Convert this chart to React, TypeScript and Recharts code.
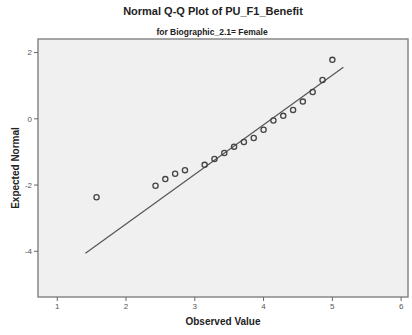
import { ScatterChart, Scatter, XAxis, YAxis, CartesianGrid, ReferenceLine, ReferenceArea } from "recharts";

// observed values (means of 7 items) and their expected normal scores
const observed = [1.571, 2.429, 2.571, 2.714, 2.857, 3.143, 3.286, 3.429, 3.571, 3.714, 3.857, 4.0, 4.143, 4.286, 4.429, 4.571, 4.714, 4.857, 5.0];
const expected = [-2.37, -2.02, -1.82, -1.66, -1.55, -1.39, -1.21, -1.03, -0.84, -0.7, -0.58, -0.33, -0.05, 0.09, 0.27, 0.52, 0.81, 1.17, 1.78];

// normal reference line end points
const lineX = [1.41, 5.16];
const lineY = [-4.06, 1.56];

const xTicks = [1, 2, 3, 4, 5, 6];
const yTicks = [-4, -2, 0, 2];

const X_DOMAIN: [number, number] = [0.72, 6.1];
const Y_DOMAIN: [number, number] = [-5.38, 2.41];

const points = observed.map((x, i) => ({ x, y: expected[i] }));

const font = "Arial, 'Liberation Sans', sans-serif";
const tickStyle = { fontSize: 8, fill: "#555", fontFamily: font };

export default function App() {
  return (
    <div style={{ position: "absolute", left: 0, top: 0, width: 412, height: 335, background: "#fff", fontFamily: font }}>
      <div style={{ position: "absolute", top: 5, left: 0, width: 426, textAlign: "center", fontSize: 11, fontWeight: "bold", color: "#222" }}>
        Normal Q-Q Plot of PU_F1_Benefit
      </div>
      <div style={{ position: "absolute", top: 27, left: 0, width: 424, textAlign: "center", fontSize: 8.5, fontWeight: "bold", color: "#222" }}>
        for Biographic_2.1= Female
      </div>
      <ScatterChart width={412} height={335} margin={{ top: 39, right: 4, bottom: 8, left: 8 }}>
        <CartesianGrid fill="#f0f0f0" horizontal={false} vertical={false} />
        <XAxis
          type="number"
          dataKey="x"
          domain={X_DOMAIN}
          ticks={xTicks}
          allowDataOverflow
          height={30}
          tick={tickStyle}
          tickSize={4}
          axisLine={false}
          tickLine={{ stroke: "#666" }}
        />
        <YAxis
          type="number"
          dataKey="y"
          domain={Y_DOMAIN}
          ticks={yTicks}
          allowDataOverflow
          width={30}
          tick={tickStyle}
          tickSize={4}
          axisLine={false}
          tickLine={{ stroke: "#666" }}
        />
        <ReferenceArea x1={X_DOMAIN[0]} x2={X_DOMAIN[1]} y1={Y_DOMAIN[0]} y2={Y_DOMAIN[1]} fill="none" stroke="#888" strokeWidth={1.5} ifOverflow="visible" />
        <ReferenceLine
          segment={[
            { x: lineX[0], y: lineY[0] },
            { x: lineX[1], y: lineY[1] },
          ]}
          stroke="#555"
          strokeWidth={1.2}
        />
        <Scatter
          data={points}
          isAnimationActive={false}
          shape={(p: any) => <circle cx={p.cx} cy={p.cy} r={2.6} fill="none" stroke="#444" strokeWidth={1.3} />}
        />
      </ScatterChart>
      <div style={{ position: "absolute", top: 316, left: 38, width: 370, textAlign: "center", fontSize: 10, fontWeight: "bold", color: "#222" }}>
        Observed Value
      </div>
      <div
        style={{
          position: "absolute",
          left: 15,
          top: 168,
          transform: "translate(-50%, -50%) rotate(-90deg)",
          whiteSpace: "nowrap",
          fontSize: 10,
          fontWeight: "bold",
          color: "#222",
        }}
      >
        Expected Normal
      </div>
    </div>
  );
}
